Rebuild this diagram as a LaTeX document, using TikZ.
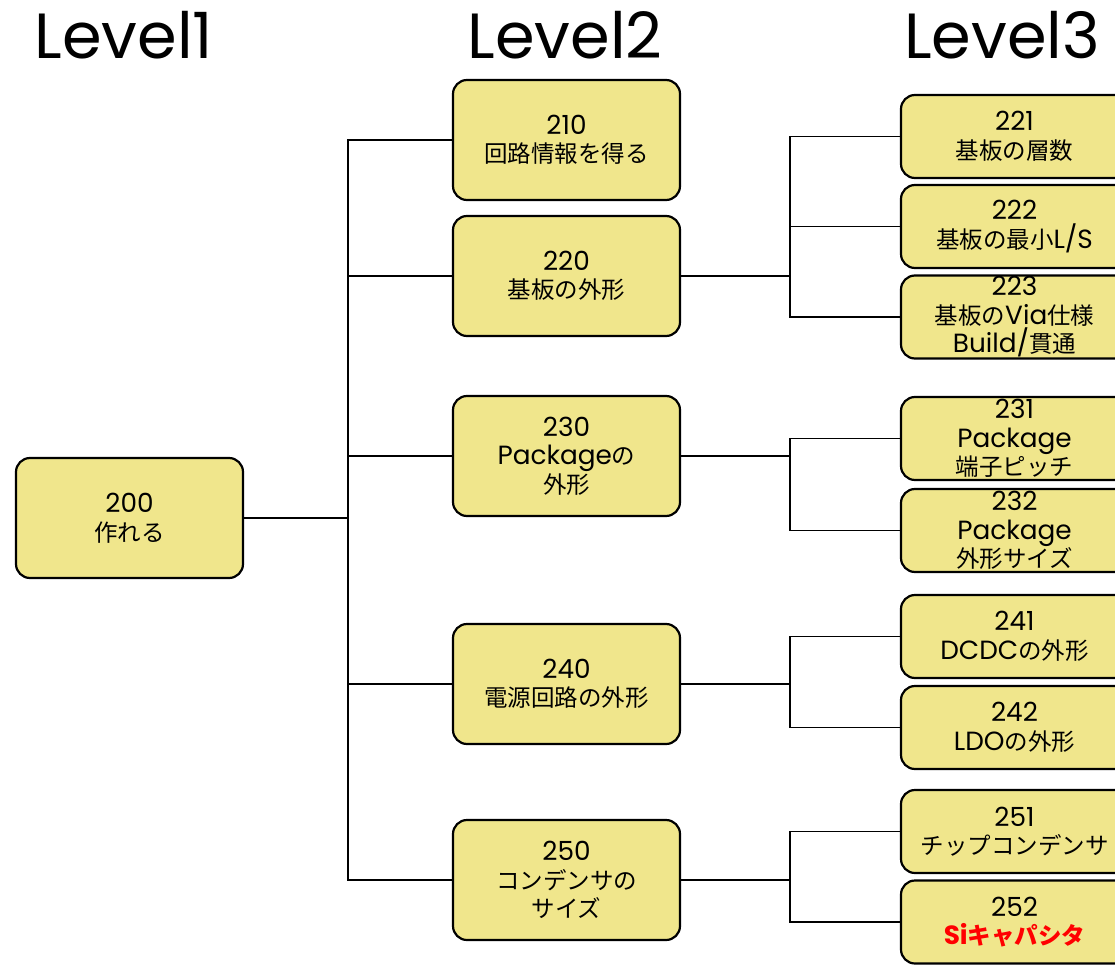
\documentclass[tikz,border=0pt]{standalone}
\usepackage{fontspec}
\setmainfont{Poppins}[Scale=1.12]
\newfontfamily\jp{Noto Sans CJK JP}
\begin{document}
\begin{tikzpicture}[x=1pt, y=-1pt]
\useasboundingbox (0,0) rectangle (1115,965);

% definitions
\tikzstyle{level} = [font=\fontsize{57}{60}\selectfont]
\tikzstyle{item} = [rectangle, rounded corners=14pt, minimum width=227pt, inner sep=0pt, text centered, align=center, draw=black, line width=2.2pt, fill={rgb,255:red,240;green,230;blue,140}, font=\fontsize{23.5}{28.5}\selectfont]
\tikzstyle{big} = [item, minimum height=120pt]
\tikzstyle{small} = [item, minimum height=83pt]
\tikzstyle{main} = [line width=1.8pt]
\tikzstyle{branch} = [line width=1.2pt]

% titles
\node (t1) [level] at (124,35) {Level1};
\node (t2) [level] at (565,35) {Level2};
\node (t3) [level] at (1002,35) {Level3};

% level 1
\node (n200) [big] at (129.5,518) {200\\{\jp 作れる}};

% level 2
\node (n210) [big] at (566.5,140) {210\\{\jp 回路情報を得る}};
\node (n220) [big] at (566.5,276) {220\\{\jp 基板の外形}};
\node (n230) [big] at (566.5,456) {230\\Package{\jp の}\\{\jp 外形}};
\node (n240) [big] at (566.5,684) {240\\{\jp 電源回路の外形}};
\node (n250) [big] at (566.5,880) {250\\{\jp コンデンサの}\\{\jp サイズ}};

% level 3
\node (n221) [small] at (1014.5,136.5) {221\\{\jp 基板の層数}};
\node (n222) [small] at (1014.5,226.5) {222\\{\jp 基板の最小}L/S};
\node (n223) [small] at (1014.5,317) {223\\{\jp 基板の}Via{\jp 仕様}\\Build/{\jp 貫通}};
\node (n231) [small] at (1014.5,438.5) {231\\Package\\{\jp 端子ピッチ}};
\node (n232) [small] at (1014.5,530.5) {232\\Package\\{\jp 外形サイズ}};
\node (n241) [small] at (1014.5,636.5) {241\\DCDC{\jp の外形}};
\node (n242) [small] at (1014.5,727.5) {242\\LDO{\jp の外形}};
\node (n251) [small] at (1014.5,831.5) {251\\{\jp チップコンデンサ}};
\node (n252) [small] at (1014.5,922) {252\\{\color{red}\bfseries Si{\jp キャパシタ}}};

% junctions
\coordinate (j200) at (348,518);
\coordinate (j220) at (790,276);
\coordinate (j230) at (790,456);
\coordinate (j240) at (790,684);
\coordinate (j250) at (790,880);

% the tree
\draw [main] (n200) -- (j200);
\draw [branch] (j200) |- (n210);
\draw [branch] (j200) |- (n220);
\draw [branch] (j200) |- (n230);
\draw [branch] (j200) |- (n240);
\draw [branch] (j200) |- (n250);

\draw [main] (n220) -- (j220);
\draw [branch] (j220) |- (n221);
\draw [branch] (j220) |- (n222);
\draw [branch] (j220) |- (n223);

\draw [main] (n230) -- (j230);
\draw [branch] (j230) |- (n231);
\draw [branch] (j230) |- (n232);

\draw [main] (n240) -- (j240);
\draw [branch] (j240) |- (n241);
\draw [branch] (j240) |- (n242);

\draw [main] (n250) -- (j250);
\draw [branch] (j250) |- (n251);
\draw [branch] (j250) |- (n252);

\end{tikzpicture}
\end{document}
